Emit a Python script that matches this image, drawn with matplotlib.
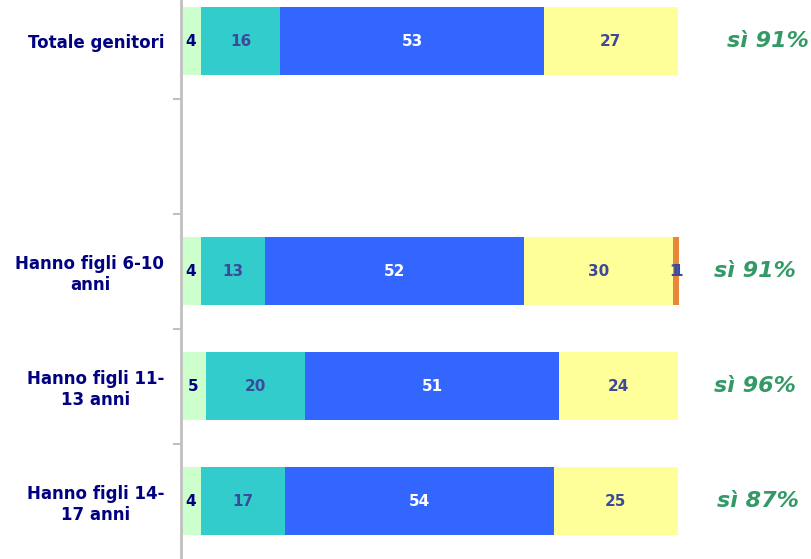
import matplotlib.pyplot as plt
import numpy as np

# Data

categories = ['Totale genitori', '', 'Hanno figli 6-10\nanni', 'Hanno figli 11-\n13 anni', 'Hanno figli 14-\n17 anni']
molto = [4, 0, 4, 5, 4]
abbastanza = [16, 0, 13, 20, 17]
poco = [53, 0, 52, 51, 54]
per_niente = [27, 0, 30, 24, 25]
non_so = [0, 0, 0.6, 0, 0]
non_risponde = [0, 0, 0.6, 0, 0]
si_labels = ['sì 91%', '', 'sì 91%', 'sì 96%', 'sì 87%']

series = [molto, abbastanza, poco, per_niente, non_so, non_risponde]
colors = ['#CCFFCC', '#33CCCC', '#3366FF', '#FFFF99', '#E8873A', '#E8873A']
text_colors = ['#000080', '#3D4A9A', 'white', '#3D4A9A', '#3D4A9A', '#3D4A9A']

plt.rcParams['font.family'] = ['DejaVu Sans']

fig = plt.figure(figsize=(8.11, 5.59), dpi=100)
ax = fig.add_axes([181 / 811, 0, 1 - 181 / 811, 1])

y = np.arange(len(categories))
left = np.zeros(len(categories))
for vals, col, tcol in zip(series, colors, text_colors):
    vals = np.array(vals, dtype=float)
    ax.barh(y, vals, left=left, height=0.59, color=col, edgecolor='none')
    for i, v in enumerate(vals):
        if v > 0:
            ax.text(left[i] + v / 2, y[i], f'{v:.0f}', ha='center', va='center',
                    color=tcol, fontsize=11, fontweight='bold')
    left += vals

# "sì" labels on the right
si_x = [118, 0, 115.5, 115.5, 116]
for i, s in enumerate(si_labels):
    if s:
        ax.text(si_x[i], y[i], s, ha='center', va='center', color='#339966',
                fontsize=16, fontweight='bold', style='italic')

ax.set_xlim(0, (811 - 181) / 4.97)
ax.set_ylim(4.504, -0.357)

ax.set_yticks(y)
ax.set_yticklabels(categories, fontsize=12, fontweight='bold', color='#000080',
                   multialignment='center', linespacing=1.2)
ax.set_yticks(y[:-1] + 0.5, minor=True)
ax.tick_params(axis='y', which='major', length=0, pad=12)
ax.tick_params(axis='y', which='minor', length=6, width=1.5, color='#C0C0C0')
ax.set_xticks([])

for s in ['top', 'right', 'bottom']:
    ax.spines[s].set_visible(False)
ax.spines['left'].set_color('#C0C0C0')
ax.spines['left'].set_linewidth(2)

plt.savefig('out.png', dpi=100)
